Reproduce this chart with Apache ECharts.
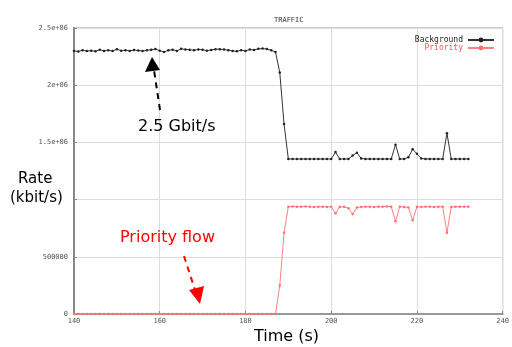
<!DOCTYPE html>
<html>
<head>
<meta charset="utf-8">
<script src="https://cdn.jsdelivr.net/npm/echarts@6/dist/echarts.min.js"></script>
<style>
html, body { margin: 0; padding: 0; background: #fff; }
#chart { width: 512px; height: 347px; }
</style>
</head>
<body>
<div id="chart"></div>
<script>
// time in seconds, one sample per second
var times = [];
for (var t = 140; t <= 232; t++) times.push(t);

var background = [
    2300000, 2295000, 2305000, 2298000, 2302000, 2296000, 2310000, 2300000, 2305000, 2298000,
    2315000, 2302000, 2306000, 2300000, 2308000, 2303000, 2298000, 2305000, 2310000, 2316000,
    2302000, 2290000, 2305000, 2310000, 2300000, 2318000, 2312000, 2310000, 2306000, 2313000,
    2310000, 2302000, 2308000, 2315000, 2315000, 2312000, 2305000, 2300000, 2296000, 2306000,
    2300000, 2312000, 2308000, 2318000, 2320000, 2316000, 2305000,
    2290000, 2110000, 1660000,
    1355000, 1355000, 1355000, 1355000, 1355000, 1355000, 1355000, 1355000, 1355000, 1355000,
    1355000, 1415000, 1355000, 1355000, 1355000, 1385000, 1410000, 1360000, 1355000, 1355000,
    1355000, 1355000, 1355000, 1355000, 1355000, 1480000, 1355000, 1355000, 1370000, 1440000,
    1400000, 1360000, 1355000, 1355000, 1355000, 1355000, 1355000, 1580000, 1355000, 1355000,
    1355000, 1355000, 1355000
];

var priority = [
    0, 0, 0, 0, 0, 0, 0, 0, 0, 0,
    0, 0, 0, 0, 0, 0, 0, 0, 0, 0,
    0, 0, 0, 0, 0, 0, 0, 0, 0, 0,
    0, 0, 0, 0, 0, 0, 0, 0, 0, 0,
    0, 0, 0, 0, 0, 0, 0,
    0, 250000, 710000,
    938000, 940000, 938000, 938000, 940000, 938000, 936000, 938000, 938000, 936000,
    938000, 880000, 936000, 938000, 925000, 875000, 930000, 936000, 938000, 938000,
    936000, 938000, 938000, 940000, 938000, 810000, 938000, 936000, 930000, 820000,
    938000, 936000, 938000, 938000, 936000, 938000, 938000, 710000, 936000, 938000,
    938000, 938000, 938000
];

var xTicks = [140, 160, 180, 200, 220, 240];
var yTicks = [0, 500000, 1000000, 1500000, 2000000, 2500000];

function pairs(vals) {
    var out = [];
    for (var i = 0; i < times.length; i++) out.push([times[i], vals[i]]);
    return out;
}

function gnuFmt(v) {
    if (v < 1000000) return String(v);
    return (v / 1000000) + 'e+06';
}

var tickFont = { fontFamily: 'DejaVu Sans Mono', fontSize: 7, color: '#555' };
var annFont = 'DejaVu Sans';

var myChart = echarts.init(document.getElementById('chart'));
var option = {
    animation: false,
    title: {
        text: 'TRAFFIC',
        left: 269,
        top: 12,
        textStyle: { fontFamily: 'DejaVu Sans Mono', fontSize: 7, fontWeight: 'normal', color: '#333' }
    },
    legend: {
        orient: 'vertical',
        right: 12,
        top: 31,
        align: 'right',
        itemGap: 0,
        itemWidth: 26,
        itemHeight: 6,
        textStyle: { fontFamily: 'DejaVu Sans Mono', fontSize: 8, color: '#222', padding: [0, 0, 0, 0] },
        data: [
            { name: 'Background' },
            { name: 'Priority', textStyle: { color: '#ff5555' } }
        ]
    },
    grid: {
        left: 74,
        right: 7,
        top: 28,
        bottom: 33,
        show: true,
        borderColor: '#999',
        borderWidth: 1
    },
    xAxis: {
        type: 'value',
        min: 140,
        max: 240,
        interval: 20,
        axisLine: { lineStyle: { color: '#999', width: 2 } },
        axisTick: { show: true, inside: true, length: 3, lineStyle: { color: '#888' } },
        axisLabel: Object.assign({ margin: 4 }, tickFont),
        splitLine: { show: true, lineStyle: { color: '#ddd', width: 1 } }
    },
    yAxis: {
        type: 'value',
        min: 0,
        max: 2500000,
        interval: 500000,
        axisLine: { show: true, lineStyle: { color: '#888', width: 2 } },
        axisTick: { show: true, inside: true, length: 3, lineStyle: { color: '#888' } },
        axisLabel: Object.assign({ margin: 6, formatter: gnuFmt }, tickFont),
        splitLine: { show: true, lineStyle: { color: '#ddd', width: 1 } }
    },
    series: [
        {
            name: 'Priority',
            type: 'line',
            data: pairs(priority),
            symbol: 'circle',
            symbolSize: 2.5,
            itemStyle: { color: '#ff7070' },
            lineStyle: { color: '#ff8080', width: 1 }
        },
        {
            name: 'Background',
            type: 'line',
            data: pairs(background),
            symbol: 'circle',
            symbolSize: 2.5,
            itemStyle: { color: '#222' },
            lineStyle: { color: '#333', width: 1 }
        }
    ],
    graphic: [
        // black dashed arrow
        { type: 'line', shape: { x1: 160, y1: 110, x2: 154, y2: 70 },
          style: { stroke: '#000', lineWidth: 2, lineDash: [6, 5] }, z: 100 },
        { type: 'polygon', shape: { points: [[152, 57], [145, 72], [160, 70]] },
          style: { fill: '#000' }, z: 100 },
        { type: 'text', left: 138, top: 119,
          style: { text: '2.5 Gbit/s', font: '16px ' + annFont, fill: '#000' }, z: 100 },
        // red dashed arrow
        { type: 'text', left: 120, top: 230,
          style: { text: 'Priority flow', font: '16px ' + annFont, fill: '#ff0000' }, z: 100 },
        { type: 'line', shape: { x1: 184, y1: 256, x2: 195, y2: 290 },
          style: { stroke: '#ff0000', lineWidth: 2, lineDash: [6, 5] }, z: 100 },
        { type: 'polygon', shape: { points: [[200, 304], [189, 290], [204, 286]] },
          style: { fill: '#ff0000' }, z: 100 },
        // axis titles
        { type: 'rect', shape: { x: 10, y: 168, width: 62, height: 44 },
          style: { fill: '#fff' }, z: 99 },
        { type: 'text', left: 18, top: 172,
          style: { text: 'Rate', font: '15px ' + annFont, fill: '#000' }, z: 100 },
        { type: 'text', left: 10, top: 191,
          style: { text: '(kbit/s)', font: '15px ' + annFont, fill: '#000' }, z: 100 },
        { type: 'text', left: 254, top: 329,
          style: { text: 'Time (s)', font: '16px ' + annFont, fill: '#000' }, z: 100 }
    ]
};
myChart.setOption(option);
</script>
</body>
</html>
